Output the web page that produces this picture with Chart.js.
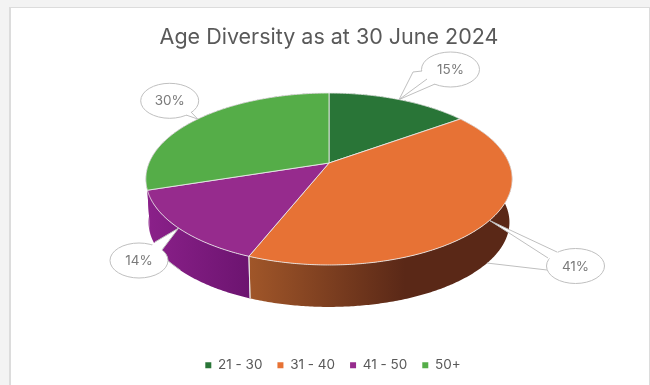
<!DOCTYPE html>
<html>
<head>
<meta charset="utf-8">
<title>Age Diversity</title>
<script src="https://cdn.jsdelivr.net/npm/chart.js@4"></script>
<style>
    html, body { margin: 0; padding: 0; width: 650px; height: 385px; overflow: hidden; background: #f3f3f3; }
    #panel { position: absolute; left: 9px; top: 7px; width: 638px; height: 377px; background: #fff; border: 2px solid #dcdcdc; border-top-width: 1px; border-bottom: 0; }
    #ageChart { position: absolute; left: 0; top: 0; }
</style>
</head>
<body>
<div id="panel"></div>
<canvas id="ageChart" width="650" height="385"></canvas>
<script>
    const ageGroups = ['21 - 30', '31 - 40', '41 - 50', '50+'];
    const ageShares = [15, 41, 14, 30];

    const faceColors = ['#297537', '#e77235', '#962b8d', '#55ad48'];
    // left and right shade of the outer wall of each slice
    // (the last one only shows as a sliver next to the 41 - 50 wall, so it takes that colour)
    const wallShades = [['#1c5226', '#1c5226'], ['#a05629', '#5a2817'], ['#8a2089', '#6c1470'], ['#8a2089', '#8a2089']];
    const wallFade = [[0, 0], [250, 405], [150, 250], [0, 0]];

    // how the flat pie is tipped back, radius 180 = width of the drawn disc
    const RADIUS = 180;
    const SQUASH = 83 / 180;
    const TIP = 0.186;
    const APEX_Y = 163;
    const FLOOR_DROP = 43.5;
    const FLOOR_SCALE = 0.985;
    const LEGEND_NUDGE = 4;
    const FONT = 'Inter';

    // speech bubbles, same order as the slices
    const bubbles = [
        { x: 450.5, y: 69.5, sides: [[[422, 71], [413, 72]], [[427, 79]], [[435, 84]]], floorTo: null },
        { x: 575.5, y: 266, sides: [[[557, 252]], [[548, 258]]], floorTo: [547, 270] },
        { x: 139, y: 260.5, sides: [[[155, 242]], [[162, 250]]], floorTo: [168, 261] },
        { x: 169.7, y: 100.8, sides: [[[191, 112]], [[186, 115]]], floorTo: null }
    ];

    function rimPoint(arc, angle, onFloor) {
        const u = Math.cos(angle), v = Math.sin(angle);
        const w = 1 - TIP * v;
        const k = onFloor ? FLOOR_SCALE : 1;
        return [
            arc.x + RADIUS * k * u / w,
            APEX_Y + (onFloor ? FLOOR_DROP : 0) + RADIUS * SQUASH * k * v / w
        ];
    }

    function rimPoints(arc, onFloor) {
        const pts = [];
        const steps = Math.ceil((arc.endAngle - arc.startAngle) / 0.01);
        for (let i = 0; i <= steps; i++) {
            pts.push(rimPoint(arc, arc.startAngle + (arc.endAngle - arc.startAngle) * i / steps, onFloor));
        }
        return pts;
    }

    function tracePolygon(ctx, pts) {
        ctx.beginPath();
        pts.forEach((p, i) => i ? ctx.lineTo(p[0], p[1]) : ctx.moveTo(p[0], p[1]));
        ctx.closePath();
    }

    function drawWall(ctx, arc, i) {
        const pts = rimPoints(arc, false).concat(rimPoints(arc, true).reverse());
        const g = ctx.createLinearGradient(wallFade[i][0], 0, wallFade[i][1] || 1, 0);
        g.addColorStop(0, wallShades[i][0]);
        g.addColorStop(1, wallShades[i][1]);
        tracePolygon(ctx, pts);
        ctx.fillStyle = g;
        ctx.fill();
    }

    function drawWallEdge(ctx, arc, angle) {
        if (Math.sin(angle) < 0.5) return;
        const a = rimPoint(arc, angle, false), b = rimPoint(arc, angle, true);
        ctx.beginPath();
        ctx.moveTo(a[0], a[1]);
        ctx.lineTo(b[0], b[1]);
        ctx.strokeStyle = 'rgba(235,235,235,0.85)';
        ctx.lineWidth = 1;
        ctx.stroke();
    }

    function drawFace(ctx, arc, color) {
        tracePolygon(ctx, [[arc.x, APEX_Y]].concat(rimPoints(arc, false)));
        ctx.fillStyle = color;
        ctx.fill();
        ctx.strokeStyle = 'rgba(235,235,235,0.85)';
        ctx.lineWidth = 1;
        ctx.stroke();
    }

    function drawBubble(ctx, arc, spot, value) {
        const mid = (arc.startAngle + arc.endAngle) / 2;
        const tip = rimPoint(arc, mid, false);
        ctx.strokeStyle = '#bfbfbf';
        ctx.lineWidth = 1;

        if (spot.floorTo) {
            const low = rimPoint(arc, mid, true);
            ctx.beginPath();
            ctx.moveTo(low[0], low[1]);
            ctx.lineTo(spot.floorTo[0], spot.floorTo[1]);
            ctx.stroke();
        }

        ctx.beginPath();
        ctx.ellipse(spot.x, spot.y, 29, 17.5, 0, 0, Math.PI * 2);
        ctx.fillStyle = '#fff';
        ctx.fill();
        ctx.stroke();

        // white wedge from the bubble to the slice, outlined on its sides only
        const first = spot.sides[0], last = spot.sides[spot.sides.length - 1];
        tracePolygon(ctx, first.concat([tip], last.slice().reverse(), [[spot.x, spot.y]]));
        ctx.fill();
        spot.sides.forEach(side => {
            ctx.beginPath();
            side.forEach((p, i) => i ? ctx.lineTo(p[0], p[1]) : ctx.moveTo(p[0], p[1]));
            ctx.lineTo(tip[0], tip[1]);
            ctx.stroke();
        });

        ctx.fillStyle = '#7a7a7a';
        ctx.font = '13.5px ' + FONT;
        ctx.textAlign = 'center';
        ctx.textBaseline = 'middle';
        ctx.fillText(value + '%', spot.x, spot.y + 0.5);
    }

    const tiltedPie = {
        id: 'tiltedPie',
        afterLayout(chart) {
            chart.legend.left += LEGEND_NUDGE;
            chart.legend.right += LEGEND_NUDGE;
        },
        beforeDatasetDraw(chart, args) {
            const ctx = chart.ctx;
            const arcs = args.meta.data;
            ctx.save();
            arcs.forEach((arc, i) => drawWall(ctx, arc, i));
            arcs.forEach(arc => {
                drawWallEdge(ctx, arc, arc.startAngle);
                drawWallEdge(ctx, arc, arc.endAngle);
            });
            arcs.forEach((arc, i) => drawFace(ctx, arc, faceColors[i]));
            arcs.forEach((arc, i) => drawBubble(ctx, arc, bubbles[i], ageShares[i]));
            ctx.restore();
            return false;
        }
    };

    new Chart(document.getElementById('ageChart'), {
        type: 'pie',
        plugins: [tiltedPie],
        data: {
            labels: ageGroups,
            datasets: [{ data: ageShares, backgroundColor: faceColors, borderWidth: 0, radius: RADIUS }]
        },
        options: {
            responsive: false,
            animation: false,
            events: [],
            layout: { padding: { left: 8, top: 25, bottom: 3 } },
            plugins: {
                tooltip: { enabled: false },
                title: {
                    display: true,
                    text: 'Age Diversity as at 30 June 2024',
                    color: '#595959',
                    font: { family: FONT, size: 21.5, weight: 'normal' },
                    padding: 0
                },
                legend: {
                    position: 'bottom',
                    labels: {
                        boxWidth: 6,
                        boxHeight: 6,
                        padding: 15,
                        color: '#595959',
                        font: { family: FONT, size: 13.5 }
                    }
                }
            }
        }
    });
</script>
</body>
</html>
